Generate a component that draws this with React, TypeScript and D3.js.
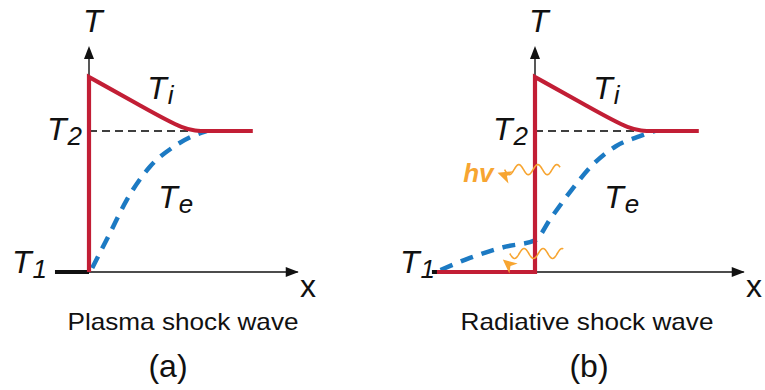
import React, { useEffect, useRef } from 'react';
import * as d3 from 'd3';

// ion temperature after the shock (same in both panels), B-spline control points
const tiX = [0, 2.5, 4.6, 5.5, 7.8];
const tiT = [10, 8.5, 7.23, 7.23, 7.23];
// electron temperature, plasma shock
const teAX = [0.15, 1, 1.8, 2.9, 4, 5, 5.6];
const teAT = [0.2, 2.0, 3.7, 5.4, 6.4, 7.0, 7.23];
// electron temperature, radiative shock (precursor heating)
const teBX = [-4.5, -3.1, -1.4, 0, 0.75, 1.7, 2.75, 3.85, 5, 5.7];
const teBT = [0.1, 0.72, 1.3, 1.62, 2.75, 4.15, 5.5, 6.45, 6.97, 7.23];

const T1 = 0;
const T2 = 7.23;
const TPEAK = 10;
const preStart = [-1.62, -4.67]; // where the T1 level starts in each panel
const captions = ['Plasma shock wave', 'Radiative shock wave'];
const tags = ['(a)', '(b)'];

// photon waves in panel b: [x start, x end, T level]
const waves = [
  [-1.45, 1.2, 5.25],
  [-1.2, 1.35, 0.95],
];

const RED = '#c21e35';
const BLUE = '#1c7ac3';
const ORANGE = '#f7a531';
const FONT = '"Liberation Sans", Arial, Helvetica, sans-serif';

const App = () => {
  const ref = useRef<SVGSVGElement>(null);

  useEffect(() => {
    const svg = d3.select(ref.current);
    svg.selectAll('*').remove();

    const y = d3.scaleLinear().domain([0, 10]).range([272, 77]);
    const origins = [89, 535];

    origins.forEach((ox, p) => {
      const x = d3.scaleLinear().domain([0, 10]).range([ox, ox + 210]);
      const g = svg.append('g');

      // T2 dashed guide
      g.append('line')
        .attr('x1', x(0)).attr('x2', x(6.2))
        .attr('y1', y(T2)).attr('y2', y(T2))
        .attr('stroke', '#000').attr('stroke-width', 1.5)
        .attr('stroke-dasharray', '8,5');

      // axes
      g.append('line')
        .attr('x1', x(0)).attr('x2', x(9.94))
        .attr('y1', y(T1)).attr('y2', y(T1))
        .attr('stroke', '#111').attr('stroke-width', 1.4);
      g.append('path')
        .attr('d', `M${x(9.94) + 1},${y(0)} l-13,-5 l0,10 Z`)
        .attr('fill', '#111');
      g.append('line')
        .attr('x1', x(0)).attr('x2', x(0))
        .attr('y1', y(0)).attr('y2', 50)
        .attr('stroke', '#111').attr('stroke-width', 1.4);
      g.append('path')
        .attr('d', `M${x(0)},46 l-5,13 l10,0 Z`)
        .attr('fill', '#111');

      // T1 black bar
      g.append('line')
        .attr('x1', x(preStart[p]) - (p === 1 ? 5 : 0)).attr('x2', x(0))
        .attr('y1', y(T1)).attr('y2', y(T1))
        .attr('stroke', '#111').attr('stroke-width', 4);

      // electron temperature
      const teX = p === 0 ? teAX : teBX;
      const teT = p === 0 ? teAT : teBT;
      const teLine = d3.line<number>()
        .x((d, i) => x(teX[i]))
        .y(d => y(d))
        .curve(d3.curveMonotoneX);
      g.append('path')
        .attr('d', teLine(teT))
        .attr('fill', 'none')
        .attr('stroke', BLUE).attr('stroke-width', 4.5)
        .attr('stroke-dasharray', '13,9');

      // ion temperature: step + relaxation curve
      const step = p === 0
        ? [[0, T1], [0, TPEAK]]
        : [[preStart[1], T1], [0, T1], [0, TPEAK]];
      const stepPath = d3.line()(step.map(d => [x(d[0]), y(d[1])] as [number, number]));
      const tiLine = d3.line<number>()
        .x((d, i) => x(tiX[i]))
        .y(d => y(d))
        .curve(d3.curveBasis);
      g.append('path')
        .attr('d', stepPath + (tiLine(tiT) || '').replace(/^M/, 'L'))
        .attr('fill', 'none')
        .attr('stroke', RED).attr('stroke-width', 4.2)
        .attr('stroke-linejoin', 'miter');

      // photons in the radiative panel
      if (p === 1) {
        waves.forEach((w, k) => {
          const x0 = x(w[0]), x1 = x(w[1]), cy = y(w[2]);
          const pts: [number, number][] = d3.range(x0, x1, 0.5).map(px =>
            [px, cy + 5 * Math.sin(((px - x0) / 19) * 2 * Math.PI)]);
          g.append('path')
            .attr('d', d3.line()(pts))
            .attr('fill', 'none')
            .attr('stroke', ORANGE).attr('stroke-width', 1.6);
          const ang = k === 0 ? 200 : 220;
          g.append('path')
            .attr('d', 'M0,0 L14,-6.5 L10,0 L14,6.5 Z')
            .attr('transform', `translate(${x0 - 7},${cy + (k === 0 ? 3 : 6)}) rotate(${ang - 180})`)
            .attr('fill', ORANGE);
        });
        g.append('text')
          .attr('x', x(waves[0][0]) - 11).attr('y', 182)
          .attr('text-anchor', 'end')
          .style('font-family', FONT).style('font-size', '26px')
          .style('font-weight', 'bold').style('font-style', 'italic')
          .attr('fill', ORANGE)
          .text('hv');
      }

      // labels
      const lab = (tx: number, ty: number, main: string, sub: string, size = 32) => {
        const t = g.append('text')
          .attr('x', tx).attr('y', ty)
          .style('font-family', FONT).style('font-style', 'italic')
          .style('font-size', size + 'px').attr('fill', '#111');
        t.append('tspan').text(main);
        if (sub) t.append('tspan').attr('dy', 5).attr('dx', 1).style('font-size', '26px').text(sub);
      };
      lab(x(0) - 6, 32, 'T', '');
      lab(x(0) - 42, 140, 'T', '2');
      lab(p === 0 ? 12 : 400, 273, 'T', '1');
      lab(x(2.77), 99, 'T', 'i');
      lab(x(3.3), 208, 'T', 'e');

      g.append('text')
        .attr('x', x(10.05)).attr('y', 297)
        .style('font-family', FONT).style('font-size', '32px')
        .attr('fill', '#111')
        .text('x');

      const cx = p === 0 ? 183 : 587;
      g.append('text')
        .attr('x', cx).attr('y', 330)
        .attr('text-anchor', 'middle')
        .attr('textLength', p === 0 ? 231 : 253)
        .attr('lengthAdjust', 'spacingAndGlyphs')
        .style('font-family', FONT).style('font-size', '24px')
        .attr('fill', '#111')
        .text(captions[p]);
      g.append('text')
        .attr('x', p === 0 ? 168 : 589).attr('y', 377)
        .attr('text-anchor', 'middle')
        .style('font-family', FONT).style('font-size', '32px')
        .attr('fill', '#111')
        .text(tags[p]);
    });
  }, []);

  return (
    <svg ref={ref} width={765} height={390}
      style={{ position: 'absolute', left: 0, top: 0, background: '#fff' }} />
  );
};

export default App;
